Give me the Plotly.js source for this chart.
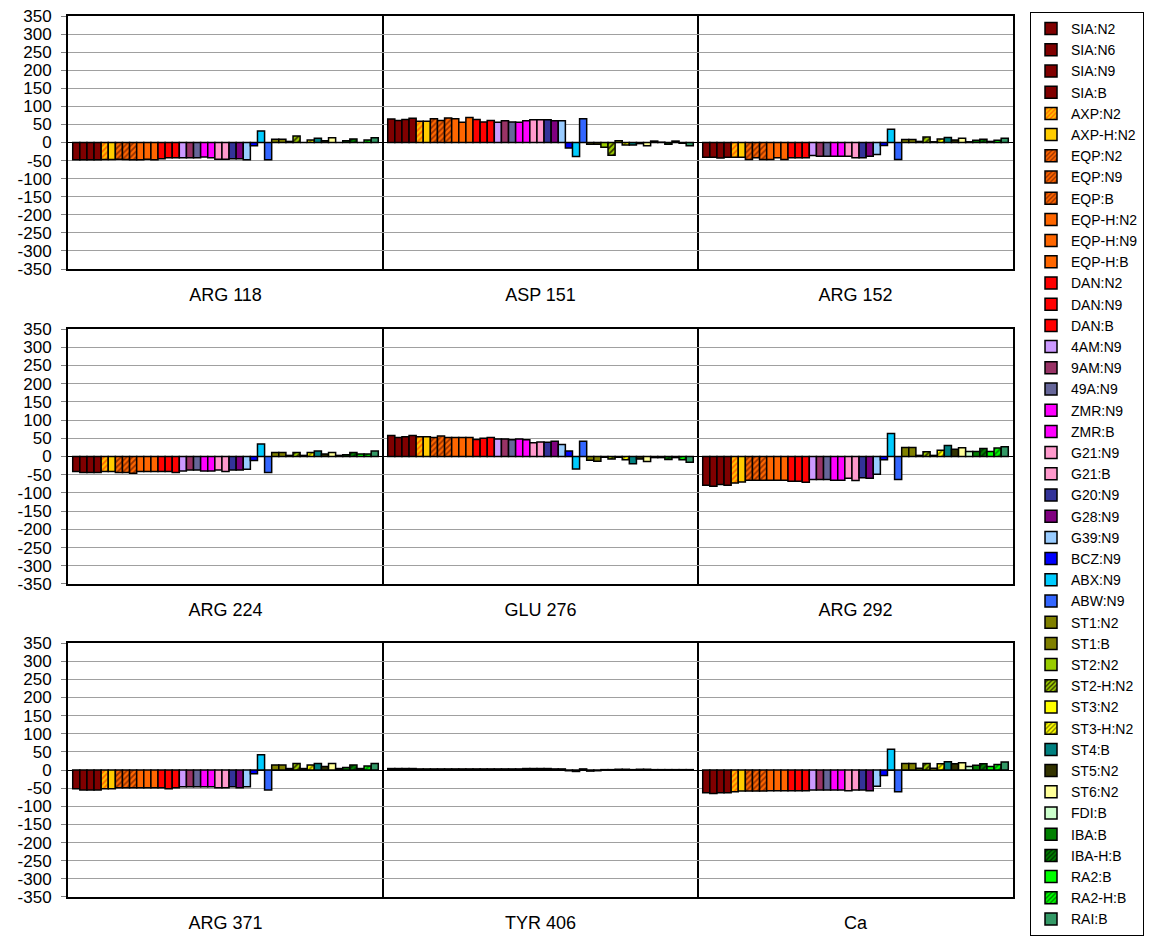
<!DOCTYPE html>
<html>
<head>
<meta charset="utf-8">
<script src="https://cdn.plot.ly/plotly-3.0.1.min.js"></script>
<style>
html,body{margin:0;padding:0;background:#fff;}
#chart{width:1156px;height:936px;}
</style>
</head>
<body>
<div id="chart"></div>
<script>
// ---- data ----
const seriesNames = ["SIA:N2","SIA:N6","SIA:N9","SIA:B","AXP:N2","AXP-H:N2","EQP:N2","EQP:N9","EQP:B","EQP-H:N2","EQP-H:N9","EQP-H:B","DAN:N2","DAN:N9","DAN:B","4AM:N9","9AM:N9","49A:N9","ZMR:N9","ZMR:B","G21:N9","G21:B","G20:N9","G28:N9","G39:N9","BCZ:N9","ABX:N9","ABW:N9","ST1:N2","ST1:B","ST2:N2","ST2-H:N2","ST3:N2","ST3-H:N2","ST4:B","ST5:N2","ST6:N2","FDI:B","IBA:B","IBA-H:B","RA2:B","RA2-H:B","RAI:B"];

const seriesColors = ["#800000","#800000","#800000","#800000","#FFC000","#FFCC00","#FF6600","#FF6600","#FF6600","#FF6600","#FF6600","#FF6600","#FF0000","#FF0000","#FF0000","#CC99FF","#993366","#666699","#FF00FF","#FF00FF","#FF99CC","#FF99CC","#333399","#800080","#99CCFF","#0000FF","#00CCFF","#3366FF","#808000","#808000","#99CC00","#99CC00","#FFFF00","#FFFF00","#008080","#333300","#FFFF99","#CCFFCC","#008000","#008000","#00FF00","#00FF00","#339966"];

// hatch (foreground stripe) colours; null = solid fill
const hatchColors = [null,null,null,null,"#FF6600",null,"#993300","#993300","#993300",null,null,null,null,null,null,null,null,null,null,null,null,null,null,null,null,null,null,null,null,null,null,"#333300",null,"#808000",null,null,null,null,null,"#003300",null,"#008000",null];

const row1Categories = ["ARG 118","ASP 151","ARG 152"];
const row2Categories = ["ARG 224","GLU 276","ARG 292"];
const row3Categories = ["ARG 371","TYR 406","Ca"];

const arg118 = [-48,-48,-48,-48,-47,-47,-46,-47,-48,-48,-46,-48,-45,-42,-42,-42,-42,-42,-40,-42,-46,-46,-45,-45,-48,-9,32,-48,9,9,3,18,0,7,12,5,13,0,5,10,0,7,13];
const asp151 = [65,61,64,67,59,59,66,61,68,66,56,69,64,57,61,56,60,57,56,60,63,63,63,60,60,-15,-39,66,-5,-5,-13,-35,5,-7,-7,-3,-9,4,1,-5,4,-2,-9];
const arg152 = [-41,-41,-43,-41,-41,-41,-47,-42,-47,-47,-42,-47,-42,-42,-42,-36,-38,-38,-38,-38,-38,-42,-42,-38,-33,-8,37,-47,8,8,3,15,2,10,14,7,12,2,6,9,3,6,12];

const arg224 = [-41,-44,-44,-44,-41,-41,-44,-44,-46,-41,-41,-41,-41,-41,-44,-40,-37,-37,-40,-40,-37,-41,-37,-37,-35,-11,34,-44,11,11,3,11,3,11,15,7,11,3,5,11,7,7,15];
const glu276 = [58,52,54,58,54,54,52,56,52,52,52,52,47,50,52,48,48,46,48,46,38,40,39,42,33,15,-34,42,-10,-13,-2,-7,-2,-9,-20,-7,-14,-3,-3,-8,-3,-9,-16];
const arg292 = [-79,-82,-77,-79,-73,-70,-65,-65,-65,-65,-65,-65,-68,-68,-71,-63,-63,-63,-65,-65,-60,-66,-58,-60,-49,-9,63,-63,25,25,3,13,3,17,30,20,24,14,14,22,14,23,27];

const arg371 = [-52,-55,-55,-55,-52,-52,-49,-49,-49,-49,-49,-49,-49,-52,-49,-46,-46,-46,-46,-46,-49,-49,-46,-49,-46,-10,42,-55,14,14,4,18,4,14,18,10,18,4,7,14,4,11,18];
const tyr406 = [4,4,4,4,3,3,3,3,3,3,3,3,3,3,3,3,3,3,3,4,4,4,4,3,3,-2,-4,3,-3,-2,1,1,2,2,1,2,2,1,1,1,1,1,1];
const ca = [-63,-65,-63,-63,-60,-58,-58,-58,-58,-57,-57,-57,-57,-57,-57,-55,-55,-55,-55,-55,-57,-55,-55,-57,-45,-15,57,-60,18,18,5,18,5,17,23,17,20,10,13,17,10,15,22];

const yTickValues = [350,300,250,200,150,100,50,0,-50,-100,-150,-200,-250,-300,-350];

// ---- build ----
const rows = [
  {cats: row1Categories, panels: [arg118, asp151, arg152], xa: "x", ya: "y"},
  {cats: row2Categories, panels: [arg224, glu276, arg292], xa: "x2", ya: "y2"},
  {cats: row3Categories, panels: [arg371, tyr406, ca], xa: "x3", ya: "y3"}
];

const traces = [];
rows.forEach((row, r) => {
  seriesNames.forEach((name, k) => {
    const marker = {color: seriesColors[k], line: {color: "#000000", width: 1.5}};
    if (hatchColors[k]) {
      marker.pattern = {shape: "/", fgcolor: hatchColors[k], bgcolor: seriesColors[k], size: 4, solidity: 0.45};
    }
    traces.push({
      type: "bar",
      name: name,
      x: row.cats,
      y: row.panels.map(p => p[k]),
      xaxis: row.xa,
      yaxis: row.ya,
      marker: marker,
      legendgroup: name,
      showlegend: r === 0,
      hoverinfo: "name+y"
    });
  });
});

const font = {family: "Liberation Sans, Arial, sans-serif", color: "#000000"};

function xAxis(anchor) {
  return {
    anchor: anchor,
    domain: [0, 1],
    type: "category",
    tickson: "boundaries",
    showgrid: true,
    gridcolor: "#000000",
    gridwidth: 1.5,
    ticks: "",
    showline: true,
    linecolor: "#000000",
    linewidth: 2,
    mirror: true,
    tickfont: {family: font.family, size: 18, color: "#000000"},
    ticklabelstandoff: 8,
    fixedrange: true
  };
}
function yAxis(anchor, domain) {
  return {
    anchor: anchor,
    domain: domain,
    range: [-350, 350],
    tickvals: yTickValues,
    ticktext: yTickValues.map(String),
    showgrid: true,
    gridcolor: "#a0a0a0",
    gridwidth: 1,
    zeroline: true,
    zerolinecolor: "#000000",
    zerolinewidth: 1,
    showline: true,
    linecolor: "#000000",
    linewidth: 2,
    mirror: true,
    ticks: "outside",
    ticklen: 5,
    tickcolor: "#808080",
    tickfont: {family: font.family, size: 17, color: "#000000"},
    ticklabelstandoff: 6,
    fixedrange: true
  };
}

const layout = {
  width: 1156,
  height: 936,
  margin: {l: 68, r: 132, t: 16, b: 39, pad: 0},
  paper_bgcolor: "#ffffff",
  plot_bgcolor: "#ffffff",
  font: font,
  barmode: "group",
  bargap: 0.03,
  bargroupgap: 0,
  xaxis: xAxis("y"),
  xaxis2: xAxis("y2"),
  xaxis3: xAxis("y3"),
  yaxis: yAxis("x", [0.7128, 1]),
  yaxis2: yAxis("x2", [0.3553, 0.6447]),
  yaxis3: yAxis("x3", [0, 0.2883]),
  showlegend: true,
  legend: {
    x: 1.018,
    y: 1.001,
    xanchor: "left",
    yanchor: "top",
    bordercolor: "#000000",
    borderwidth: 1,
    bgcolor: "#ffffff",
    font: {family: font.family, size: 14, color: "#000000"},
    traceorder: "normal",
    tracegroupgap: 0,
    maxheight: 930,
    itemclick: false,
    itemdoubleclick: false
  }
};

Plotly.newPlot("chart", traces, layout, {displayModeBar: false, staticPlot: true});
</script>
</body>
</html>
